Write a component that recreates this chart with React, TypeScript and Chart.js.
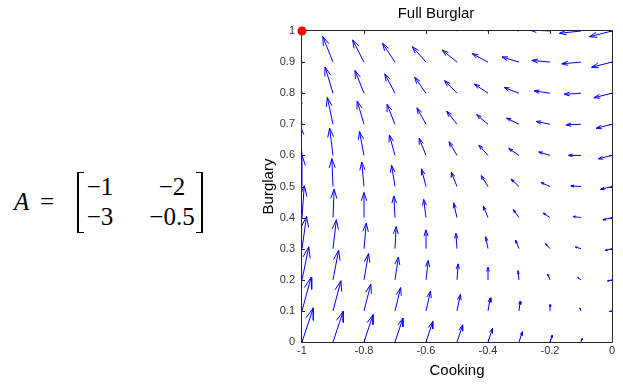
import React, { useEffect, useRef } from "react";
import { Chart, registerables } from "chart.js";

Chart.register(...registerables);

// ---- data ----
const xGrid = [-1, -0.9, -0.8, -0.7, -0.6, -0.5, -0.4, -0.3, -0.2, -0.1, 0];
const yGrid = [0, 0.1, 0.2, 0.3, 0.4, 0.5, 0.6, 0.7, 0.8, 0.9, 1];

// horizontal component of each arrow, one row per y value (bottom to top)
const uRows = [
  [1, 0.9, 0.8, 0.7, 0.6, 0.5, 0.4, 0.3, 0.2, 0.1, 0],
  [0.8, 0.7, 0.6, 0.5, 0.4, 0.3, 0.2, 0.1, 0, -0.1, -0.2],
  [0.6, 0.5, 0.4, 0.3, 0.2, 0.1, 0, -0.1, -0.2, -0.3, -0.4],
  [0.4, 0.3, 0.2, 0.1, 0, -0.1, -0.2, -0.3, -0.4, -0.5, -0.6],
  [0.2, 0.1, 0, -0.1, -0.2, -0.3, -0.4, -0.5, -0.6, -0.7, -0.8],
  [0, -0.1, -0.2, -0.3, -0.4, -0.5, -0.6, -0.7, -0.8, -0.9, -1],
  [-0.2, -0.3, -0.4, -0.5, -0.6, -0.7, -0.8, -0.9, -1, -1.1, -1.2],
  [-0.4, -0.5, -0.6, -0.7, -0.8, -0.9, -1, -1.1, -1.2, -1.3, -1.4],
  [-0.6, -0.7, -0.8, -0.9, -1, -1.1, -1.2, -1.3, -1.4, -1.5, -1.6],
  [-0.8, -0.9, -1, -1.1, -1.2, -1.3, -1.4, -1.5, -1.6, -1.7, -1.8],
  [-1, -1.1, -1.2, -1.3, -1.4, -1.5, -1.6, -1.7, -1.8, -1.9, -2],
];

// vertical component of each arrow, one row per y value (bottom to top)
const vRows = [
  [3, 2.7, 2.4, 2.1, 1.8, 1.5, 1.2, 0.9, 0.6, 0.3, 0],
  [2.95, 2.65, 2.35, 2.05, 1.75, 1.45, 1.15, 0.85, 0.55, 0.25, -0.05],
  [2.9, 2.6, 2.3, 2, 1.7, 1.4, 1.1, 0.8, 0.5, 0.2, -0.1],
  [2.85, 2.55, 2.25, 1.95, 1.65, 1.35, 1.05, 0.75, 0.45, 0.15, -0.15],
  [2.8, 2.5, 2.2, 1.9, 1.6, 1.3, 1, 0.7, 0.4, 0.1, -0.2],
  [2.75, 2.45, 2.15, 1.85, 1.55, 1.25, 0.95, 0.65, 0.35, 0.05, -0.25],
  [2.7, 2.4, 2.1, 1.8, 1.5, 1.2, 0.9, 0.6, 0.3, 0, -0.3],
  [2.65, 2.35, 2.05, 1.75, 1.45, 1.15, 0.85, 0.55, 0.25, -0.05, -0.35],
  [2.6, 2.3, 2, 1.7, 1.4, 1.1, 0.8, 0.5, 0.2, -0.1, -0.4],
  [2.55, 2.25, 1.95, 1.65, 1.35, 1.05, 0.75, 0.45, 0.15, -0.15, -0.45],
  [2.5, 2.2, 1.9, 1.6, 1.3, 1, 0.7, 0.4, 0.1, -0.2, -0.5],
];

const markerPoints = [{ x: -1, y: 1 }];

const xTicks = [-1, -0.8, -0.6, -0.4, -0.2, 0];
const xTickLabels = ["-1", "-0.8", "-0.6", "-0.4", "-0.2", "0"];
const yTicks = [0, 0.1, 0.2, 0.3, 0.4, 0.5, 0.6, 0.7, 0.8, 0.9, 1];
const yTickLabels = ["0", "0.1", "0.2", "0.3", "0.4", "0.5", "0.6", "0.7", "0.8", "0.9", "1"];

const titleText = "Full Burglar";
const xAxisLabel = "Cooking";
const yAxisLabel = "Burglary";
const matrixRows = [
  ["\u22121", "\u22122"],
  ["\u22123", "\u22120.5"],
];

// ---- style constants ----
const QUIVER_SCALE = 0.0366;
const HEAD_ALPHA = 0.33;
const HEAD_BETA = 0.33;
const FONT = "'Liberation Sans', Arial, sans-serif";

function buildArrowPoints() {
  const pts: { x: number; y: number | null }[] = [];
  yGrid.forEach((y, i) => {
    xGrid.forEach((x, j) => {
      const u = uRows[i][j] * QUIVER_SCALE;
      const v = vRows[i][j] * QUIVER_SCALE;
      if (u === 0 && v === 0) return;
      const tx = x + u;
      const ty = y + v;
      pts.push({ x, y }, { x: tx, y: ty }, { x: tx, y: null });
      pts.push(
        { x: tx - HEAD_ALPHA * (u + HEAD_BETA * v), y: ty - HEAD_ALPHA * (v - HEAD_BETA * u) },
        { x: tx, y: ty },
        { x: tx - HEAD_ALPHA * (u - HEAD_BETA * v), y: ty - HEAD_ALPHA * (v + HEAD_BETA * u) },
        { x: tx, y: null }
      );
    });
  });
  return pts;
}

const boxPlugin = {
  id: "matlabBox",
  beforeDatasetsDraw(chart: any) {
    const { ctx, chartArea, scales } = chart;
    const { left, right, top, bottom } = chartArea;
    ctx.save();
    ctx.strokeStyle = "#262626";
    ctx.lineWidth = 1;
    ctx.beginPath();
    ctx.rect(left - 0.5, top - 0.5, right - left + 1, bottom - top + 1);
    ctx.stroke();
    const tl = 3;
    ctx.beginPath();
    xTicks.forEach((v) => {
      const px = Math.round(scales.x.getPixelForValue(v)) + 0.5;
      ctx.moveTo(px, bottom);
      ctx.lineTo(px, bottom - tl);
      ctx.moveTo(px, top);
      ctx.lineTo(px, top + tl);
    });
    yTicks.forEach((v) => {
      const py = Math.round(scales.y.getPixelForValue(v)) + 0.5;
      ctx.moveTo(left, py);
      ctx.lineTo(left + tl, py);
      ctx.moveTo(right, py);
      ctx.lineTo(right - tl, py);
    });
    ctx.stroke();
    ctx.restore();
  },
};

function QuiverChart() {
  const ref = useRef<HTMLCanvasElement | null>(null);
  useEffect(() => {
    if (!ref.current) return;
    const chart = new Chart(ref.current, {
      type: "line",
      data: {
        datasets: [
          {
            data: markerPoints,
            showLine: false,
            pointRadius: 4.5,
            pointBackgroundColor: "#ff0000",
            pointBorderColor: "#ff0000",
            pointBorderWidth: 0,
            clip: false,
          } as any,
          {
            data: buildArrowPoints(),
            borderColor: "#0000ff",
            borderWidth: 1,
            pointRadius: 0,
            pointHoverRadius: 0,
            tension: 0,
            spanGaps: false,
            fill: false,
          } as any,
        ],
      },
      options: {
        animation: false,
        responsive: false,
        devicePixelRatio: 1,
        events: [],
        layout: { padding: { left: 260, right: 11, top: 0, bottom: 4 } },
        plugins: {
          legend: { display: false },
          tooltip: { enabled: false },
          title: {
            display: true,
            text: titleText,
            color: "#000",
            font: { family: FONT, size: 15, weight: "normal" },
            padding: { top: 5, bottom: 8 },
          },
        },
        scales: {
          x: {
            type: "linear",
            position: "bottom",
            min: -1,
            max: 0,
            grid: { display: false, drawTicks: false },
            border: { display: false },
            afterBuildTicks: (s: any) => {
              s.ticks = xTicks.map((v) => ({ value: v }));
            },
            afterFit: (s: any) => {
              s.height = 38;
              s.paddingLeft = 0;
              s.paddingRight = 0;
            },
            ticks: {
              padding: 2,
              color: "#333",
              autoSkip: false,
              maxRotation: 0,
              font: { family: FONT, size: 11 },
              callback: (_v: any, i: number) => xTickLabels[i],
            },
            title: {
              display: true,
              text: xAxisLabel,
              color: "#000",
              font: { family: FONT, size: 15 },
              padding: { top: 0, bottom: 0 },
            },
          },
          y: {
            type: "linear",
            position: "left",
            min: 0,
            max: 1,
            grid: { display: false, drawTicks: false },
            border: { display: false },
            afterBuildTicks: (s: any) => {
              s.ticks = yTicks.map((v) => ({ value: v }));
            },
            afterFit: (s: any) => {
              s.width = 42;
              s.paddingTop = 0;
              s.paddingBottom = 0;
            },
            ticks: {
              padding: 7,
              color: "#333",
              autoSkip: false,
              font: { family: FONT, size: 11 },
              callback: (_v: any, i: number) => yTickLabels[i],
            },
            title: {
              display: true,
              text: yAxisLabel,
              color: "#000",
              font: { family: FONT, size: 15 },
              padding: { top: 0, bottom: 0 },
            },
          },
        },
      } as any,
      plugins: [boxPlugin],
    });
    return () => chart.destroy();
  }, []);
  return (
    <canvas
      ref={ref}
      width={623}
      height={384}
      style={{ position: "absolute", left: 0, top: 0, width: 623, height: 384, display: "block" }}
    />
  );
}

const serif = "'Liberation Serif', 'Times New Roman', serif";

function Equation() {
  const base: React.CSSProperties = {
    position: "absolute",
    fontFamily: serif,
    fontSize: 25,
    lineHeight: "25px",
    whiteSpace: "nowrap",
    color: "#000",
  };
  const colCenters = [100, 172];
  const rowTops = [174, 204];
  return (
    <div style={{ position: "absolute", left: 0, top: 0, width: 250, height: 384 }}>
      <span style={{ ...base, left: 14, top: 189, fontStyle: "italic" }}>A</span>
      <span style={{ ...base, left: 40, top: 189 }}>=</span>
      <div
        style={{
          position: "absolute",
          left: 77,
          top: 172,
          width: 5,
          height: 59,
          borderLeft: "2px solid #000",
          borderTop: "1.5px solid #000",
          borderBottom: "1.5px solid #000",
        }}
      />
      <div
        style={{
          position: "absolute",
          left: 196,
          top: 172,
          width: 5,
          height: 59,
          borderRight: "2px solid #000",
          borderTop: "1.5px solid #000",
          borderBottom: "1.5px solid #000",
        }}
      />
      {matrixRows.map((row, r) =>
        row.map((cell, c) => (
          <span
            key={r + "-" + c}
            style={{ ...base, left: colCenters[c], top: rowTops[r], transform: "translateX(-50%)" }}
          >
            {cell}
          </span>
        ))
      )}
    </div>
  );
}

export default function App() {
  return (
    <div style={{ position: "absolute", left: 0, top: 0, width: 623, height: 384, background: "#fff" }}>
      <Equation />
      <QuiverChart />
    </div>
  );
}
